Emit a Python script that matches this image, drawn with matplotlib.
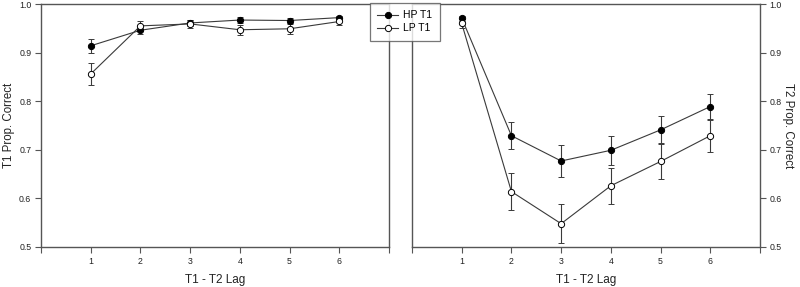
import numpy as np
import matplotlib
matplotlib.use('Agg')
import matplotlib.pyplot as plt
from matplotlib.lines import Line2D

plt.rcParams['font.family'] = ['Liberation Sans', 'DejaVu Sans']

lags = [1, 2, 3, 4, 5, 6]

# T1 accuracy
t1_hp = [0.914, 0.946, 0.961, 0.967, 0.966, 0.972]
t1_hp_err = [0.015, 0.008, 0.007, 0.007, 0.006, 0.004]
t1_lp = [0.856, 0.955, 0.959, 0.947, 0.949, 0.964]
t1_lp_err = [0.023, 0.010, 0.008, 0.010, 0.010, 0.008]

# T2 accuracy
t2_hp = [0.971, 0.729, 0.677, 0.699, 0.741, 0.789]
t2_hp_err = [0.005, 0.028, 0.032, 0.030, 0.029, 0.026]
t2_lp = [0.960, 0.614, 0.548, 0.626, 0.676, 0.729]
t2_lp_err = [0.010, 0.038, 0.040, 0.037, 0.037, 0.033]

series_labels = ['HP T1', 'LP T1']
xtick_pos = [0, 1, 2, 3, 4, 5, 6, 7]
xtick_lab = ['', '1', '2', '3', '4', '5', '6', '']
ytick_pos = [0.5, 0.6, 0.7, 0.8, 0.9, 1.0]

line_col = '#3a3a3a'
spine_col = '#555555'

fig = plt.figure(figsize=(8, 2.87), dpi=100)
ax1 = fig.add_axes([41/800, 40/287, 348/800, 243/287])
ax2 = fig.add_axes([412/800, 40/287, 348/800, 243/287])


def draw(ax, hp, hp_err, lp, lp_err):
    kw = dict(color=line_col, lw=0.8, ecolor=line_col, elinewidth=0.8,
              capsize=2.5, capthick=0.8, markersize=4.5, markeredgewidth=0.7,
              markeredgecolor='black')
    ax.errorbar(lags, hp, yerr=hp_err, marker='o', markerfacecolor='black',
                zorder=3, **kw)
    ax.errorbar(lags, lp, yerr=lp_err, marker='o', markerfacecolor='white',
                zorder=3, **kw)
    ax.set_xlim(0, 7)
    ax.set_ylim(0.5, 1.0)
    ax.set_xticks(xtick_pos)
    ax.set_xticklabels(xtick_lab)
    ax.set_yticks(ytick_pos)
    ax.set_yticklabels(['%.1f' % v for v in ytick_pos])
    ax.tick_params(direction='out', length=4, width=0.8, color=spine_col,
                   labelsize=6.3, pad=3, labelcolor='#222222')
    for sp in ax.spines.values():
        sp.set_color(spine_col)
        sp.set_linewidth(1.0)
    ax.set_xlabel('T1 - T2 Lag', fontsize=8.5, labelpad=6, color='#222222')


draw(ax1, t1_hp, t1_hp_err, t1_lp, t1_lp_err)
ax1.set_ylabel('T1 Prop. Correct', fontsize=8.3, labelpad=3, color='#222222')

draw(ax2, t2_hp, t2_hp_err, t2_lp, t2_lp_err)
ax2.yaxis.tick_right()
ax2.yaxis.set_label_position('right')
ax2.set_ylabel('T2 Prop. Correct', fontsize=8.3, rotation=270, labelpad=9,
               color='#222222')

handles = [
    Line2D([], [], color=line_col, lw=0.8, marker='o', markersize=4.5,
           markerfacecolor='black', markeredgecolor='black', markeredgewidth=0.7),
    Line2D([], [], color=line_col, lw=0.8, marker='o', markersize=4.5,
           markerfacecolor='white', markeredgecolor='black', markeredgewidth=0.7),
]
leg = fig.legend(handles, series_labels, loc='upper left',
                 bbox_to_anchor=(370/800, 1 - 3/287), borderaxespad=0,
                 fontsize=7.5, frameon=True, fancybox=False, handlelength=2.0,
                 handletextpad=0.5, borderpad=0.7, labelspacing=0.3)
leg.get_frame().set_edgecolor(spine_col)
leg.get_frame().set_linewidth(0.9)

fig.savefig('out.png', dpi=100)
